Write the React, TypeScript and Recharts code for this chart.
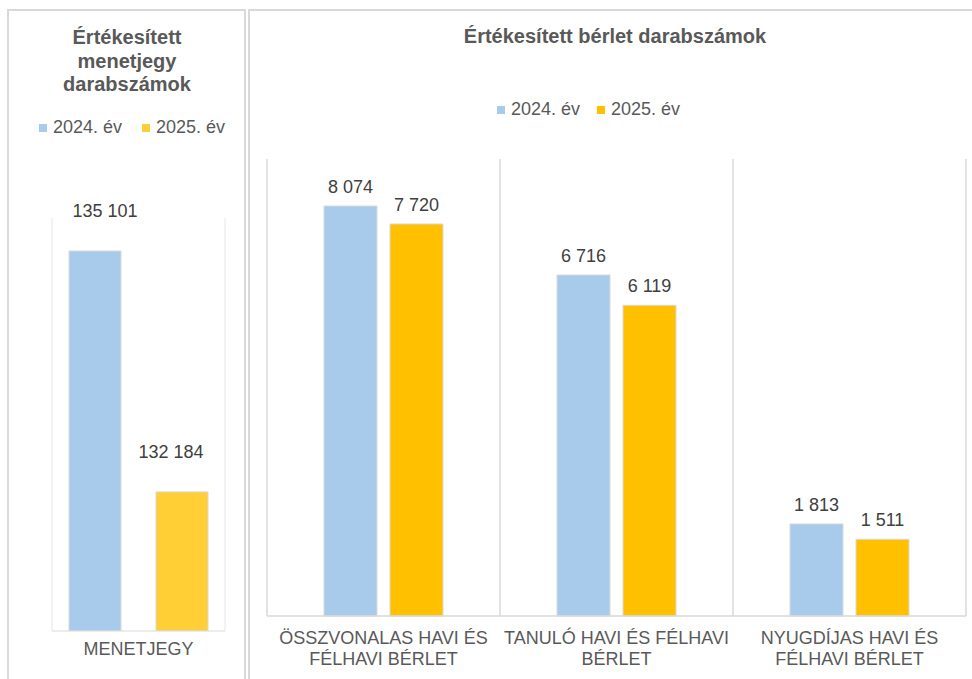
import React from 'react';
import { BarChart, Bar, XAxis, YAxis, CartesianGrid, Legend, LabelList } from 'recharts';

const menetCategories = ['MENETJEGY'];
const menet2024 = [135101];
const menet2025 = [132184];
const menetDomain = [130500, 135500];

const berletCategories = [
  'ÖSSZVONALAS HAVI ÉS\nFÉLHAVI BÉRLET',
  'TANULÓ HAVI ÉS FÉLHAVI\nBÉRLET',
  'NYUGDÍJAS HAVI ÉS\nFÉLHAVI BÉRLET',
];
const berlet2024 = [8074, 6716, 1813];
const berlet2025 = [7720, 6119, 1511];
const berletDomain = [0, 9000];

const seriesNames = ['2024. év', '2025. év'];
const menetTitle = ['Értékesített', 'menetjegy', 'darabszámok'];
const berletTitle = 'Értékesített bérlet darabszámok';

const FONT = '"Liberation Sans", Arial, sans-serif';
const BLUE = '#A9CBEB';
const YELLOW_LEFT = '#FFCF35';
const YELLOW_RIGHT = '#FFC000';
const GRID = '#D9D9D9';

const menetData = menetCategories.map((name, i) => ({ name, y2024: menet2024[i], y2025: menet2025[i] }));
const berletData = berletCategories.map((name, i) => ({ name, y2024: berlet2024[i], y2025: berlet2025[i] }));

const fmt = (v: number) => String(v).replace(/\B(?=(\d{3})+(?!\d))/g, ' ');

// vertical lines on the category borders instead of the centres
const boundaries = (n: number) => ({ offset }: any) => {
  const out: number[] = [];
  for (let i = 0; i <= n; i++) out.push(offset.left + (i * offset.width) / n);
  return out;
};

const MultiTick = (props: any) => {
  const { x, y, payload, first, lineHeight } = props;
  const lines = String(payload.value).split('\n');
  return (
    <text x={x} y={y} textAnchor="middle" fill="#595959" fontSize={18} fontFamily={FONT}>
      {lines.map((l, i) => (
        <tspan key={i} x={x} dy={i === 0 ? first : lineHeight}>{l}</tspan>
      ))}
    </text>
  );
};

const makeLabel = (dx: number, lift: number) => (props: any) => {
  const { x, y, width, value } = props;
  return (
    <text x={x + width / 2 + dx} y={y - lift} textAnchor="middle" fill="#404040" fontSize={18} fontFamily={FONT}>
      {fmt(value)}
    </text>
  );
};

const LegendBox = ({ colors, gap }: { colors: string[]; gap: number }) => (
  <div style={{ display: 'flex', fontFamily: FONT, fontSize: 18, color: '#595959', whiteSpace: 'nowrap' }}>
    {seriesNames.map((s, i) => (
      <div key={s} style={{ display: 'flex', alignItems: 'center', marginRight: gap }}>
        <span style={{ width: 8, height: 8, background: colors[i], marginRight: 6, display: 'inline-block' }} />
        {s}
      </div>
    ))}
  </div>
);

export default function App() {
  return (
    <div style={{ position: 'absolute', left: 0, top: 0, width: 972, height: 679, overflow: 'hidden', background: '#fff', fontFamily: FONT }}>
      <div style={{ position: 'absolute', left: 7, top: 9, width: 235, height: 720, border: `2px solid ${GRID}` }} />
      <div style={{ position: 'absolute', left: 248, top: 9, width: 740, height: 720, border: `2px solid ${GRID}` }} />

      <div style={{ position: 'absolute', left: 8, top: 26, width: 238, textAlign: 'center', fontWeight: 'bold', fontSize: 20, lineHeight: '23.5px', color: '#595959' }}>
        {menetTitle.map((t) => <div key={t}>{t}</div>)}
      </div>
      <div style={{ position: 'absolute', left: 249, top: 24, width: 732, textAlign: 'center', fontWeight: 'bold', fontSize: 20, lineHeight: '24px', color: '#595959' }}>
        {berletTitle}
      </div>

      <div style={{ position: 'absolute', left: 0, top: 0 }}>
        <BarChart width={250} height={679} data={menetData} margin={{ top: 218, right: 25, left: 52, bottom: 8 }} barSize={52} barGap={35}>
          <CartesianGrid horizontal={false} stroke="#E6E6E6" verticalCoordinatesGenerator={boundaries(menetCategories.length)} />
          <XAxis dataKey="name" height={40} interval={0} tickLine={false} axisLine={{ stroke: GRID }} tick={<MultiTick first={16} lineHeight={21} />} />
          <YAxis hide domain={menetDomain} allowDataOverflow />
          <Legend verticalAlign="middle" wrapperStyle={{ position: 'absolute', top: 117, left: 39, width: 'auto' }} content={() => <LegendBox colors={[BLUE, YELLOW_LEFT]} gap={20} />} />
          <Bar dataKey="y2024" name={seriesNames[0]} fill={BLUE} stroke={GRID} strokeWidth={1} isAnimationActive={false}>
            <LabelList dataKey="y2024" content={makeLabel(10, 34)} />
          </Bar>
          <Bar dataKey="y2025" name={seriesNames[1]} fill={YELLOW_LEFT} stroke={GRID} strokeWidth={1} isAnimationActive={false}>
            <LabelList dataKey="y2025" content={makeLabel(-11, 34)} />
          </Bar>
        </BarChart>
      </div>

      <div style={{ position: 'absolute', left: 249, top: 0 }}>
        <BarChart width={723} height={679} data={berletData} margin={{ top: 159, right: 6, left: 18, bottom: 8 }} barSize={53} barGap={13}>
          <CartesianGrid horizontal={false} stroke={GRID} strokeWidth={1.5} verticalCoordinatesGenerator={boundaries(berletCategories.length)} />
          <XAxis dataKey="name" height={55} interval={0} tickLine={false} axisLine={{ stroke: GRID, strokeWidth: 1.5 }} tick={<MultiTick first={20} lineHeight={21} />} />
          <YAxis hide domain={berletDomain} />
          <Legend verticalAlign="middle" wrapperStyle={{ position: 'absolute', top: 99, left: 248, width: 'auto' }} content={() => <LegendBox colors={[BLUE, YELLOW_RIGHT]} gap={17} />} />
          <Bar dataKey="y2024" name={seriesNames[0]} fill={BLUE} stroke={GRID} strokeWidth={1} isAnimationActive={false}>
            <LabelList dataKey="y2024" content={makeLabel(0, 13)} />
          </Bar>
          <Bar dataKey="y2025" name={seriesNames[1]} fill={YELLOW_RIGHT} stroke={GRID} strokeWidth={1} isAnimationActive={false}>
            <LabelList dataKey="y2025" content={makeLabel(0, 13)} />
          </Bar>
        </BarChart>
      </div>
    </div>
  );
}
